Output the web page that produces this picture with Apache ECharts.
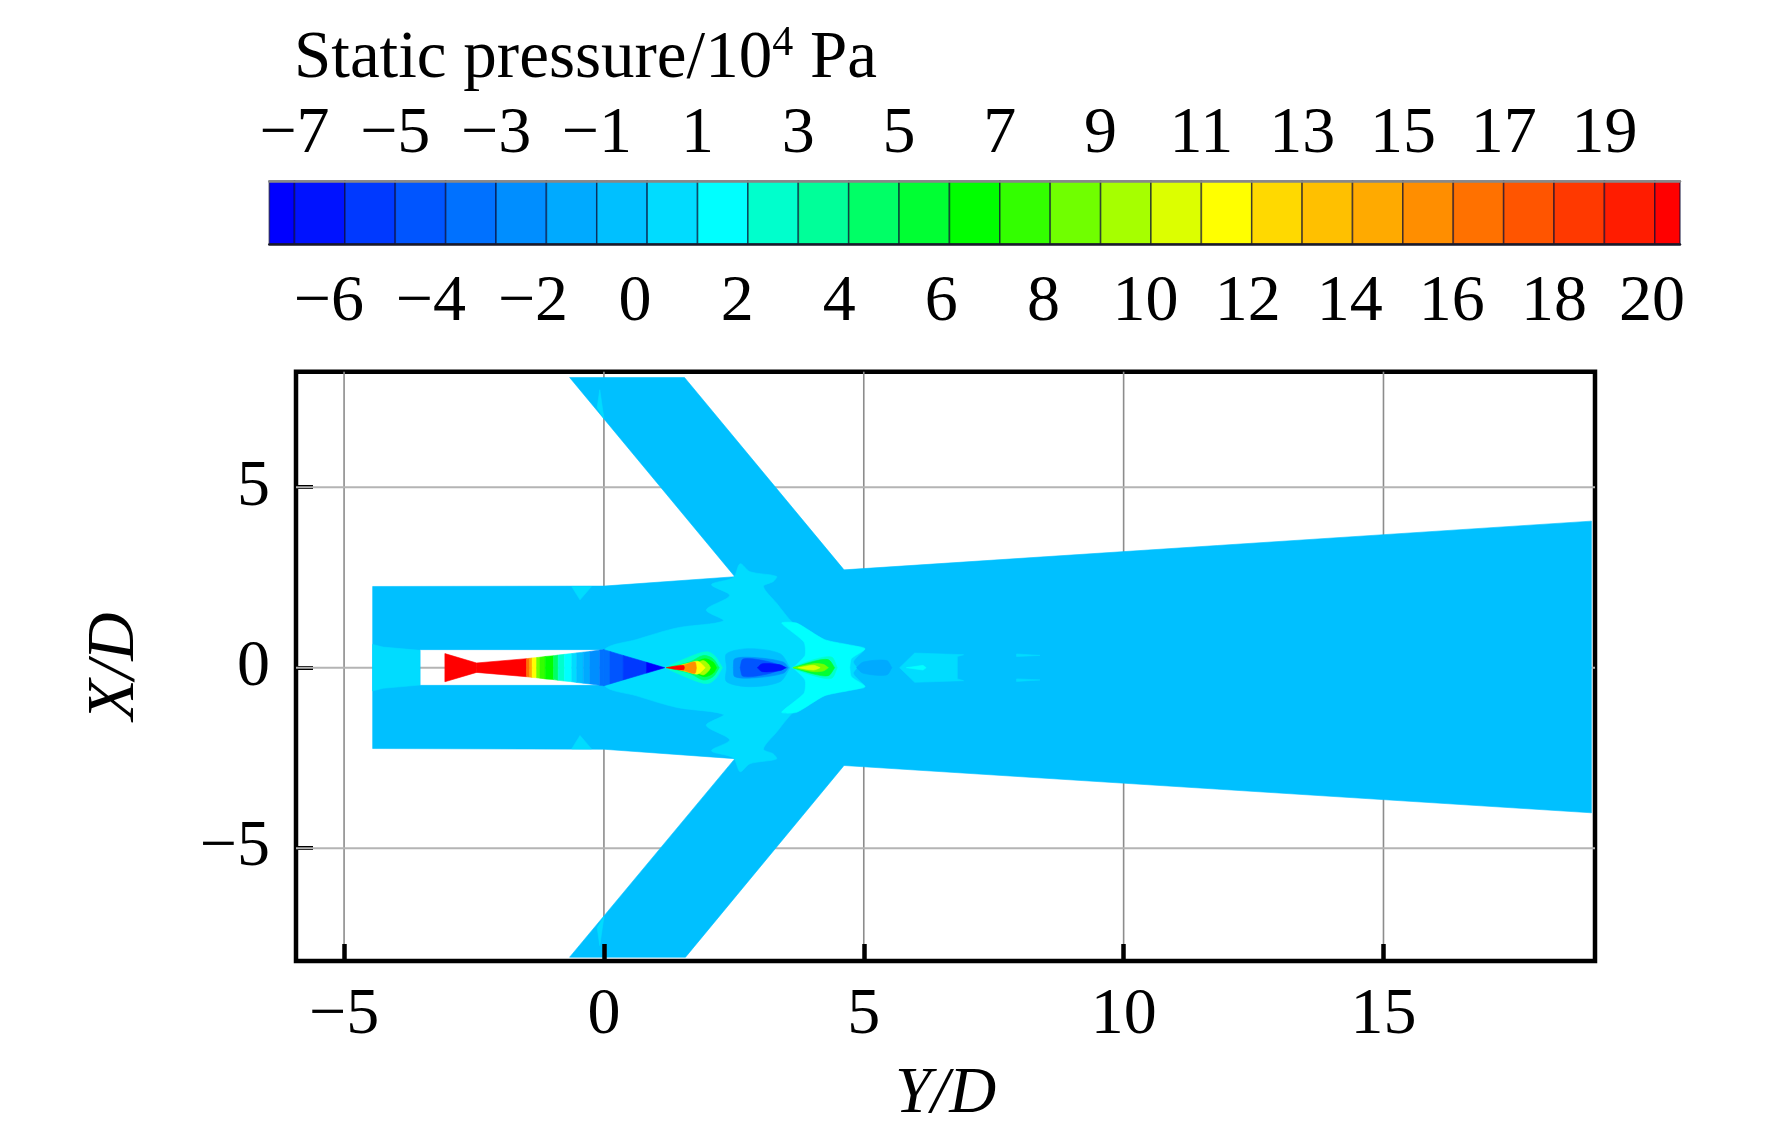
<!DOCTYPE html>
<html><head><meta charset="utf-8">
<style>html,body{margin:0;padding:0;background:#fff}#c{width:1772px;height:1132px}</style>
<script src="https://cdn.jsdelivr.net/npm/echarts@6/dist/echarts.min.js"></script>
</head><body><div id="c"></div>
<script>
const FONT = '"Liberation Serif"';
// colour bar
const bandEdges = [-7.5,-7,-6,-5,-4,-3,-2,-1,0,1,2,3,4,5,6,7,8,9,10,11,12,13,14,15,16,17,18,19,20,20.5];
const bandColors = ['#0000ff','#0012ff','#0039ff','#0055ff','#0071ff','#008eff','#00aaff','#00c0ff','#00dcff','#00ffff',
  '#00ffcc','#00ff99','#00ff66','#00ff33','#00ff00','#33ff00','#70ff00','#a6ff00','#dcff00','#ffff00',
  '#ffd900','#ffc000','#ffaa00','#ff8e00','#ff7100','#ff5500','#ff3900','#ff1c00','#ff0000'];
const topTicks = [-7,-5,-3,-1,1,3,5,7,9,11,13,15,17,19];
const bottomTicks = [-6,-4,-2,0,2,4,6,8,10,12,14,16,18,20];
const xTicks = [-5,0,5,10,15];
const yTicks = [-5,0,5];

// flow domain outline with the nozzle void (Y/D, X/D)
const domainOutline = [[-4.45,2.25],[0,2.26],[2.52,2.52],[-0.66,8.04],[1.55,8.04],[4.62,2.71],[19,4.06],
  [19,-4.02],[4.62,-2.71],[1.57,-8.02],[-0.66,-8.02],[2.52,-2.52],[0,-2.26],[-4.45,-2.24],
  [-4.45,0],[-3.54,0],[-3.54,-0.49],[0,-0.49],[0,0.5],[-3.54,0.5],[-3.54,0],[-4.45,0]];
// upper halves of symmetric pressure contours: [Y/D, X/D]
const centralRegion = [[0,0.48],[0.63,0.78],[1.4,1.1],[2.3,1.3],[1.97,1.6],[2.42,2.0],[2.07,2.3],[2.49,2.5],[2.62,2.88],[2.81,2.66],[3.32,2.53],[3.26,2.39],[3.07,2.25],[3.32,1.79],[3.64,1.24],[4.09,0.78],[4.6,0.59],[5.02,0.54],[4.8,0.17],[4.87,0]];
const inletStrip = [[-4.45,0.645],[-4.25,0.57],[-3.54,0.48],[-3.54,0]];
const edgeSpot = [[-0.62,2.25],[-0.24,2.25],[-0.46,1.88]];
const armSpot = [[-0.08,7.7],[0.0,6.9],[-0.13,7.2]];
const wing = [[3.64,0],[3.87,0.34],[3.85,0.71],[3.42,1.235],[3.71,1.235],[4.25,0.775],[5.02,0.526],[4.76,0.25],[4.73,0]];
const diamondA = [
  [2.5,[[1.17,0],[1.75,0.36],[2.0,0.44],[2.15,0.3],[2.28,0]]],
  [4.5,[[1.2,0],[1.65,0.157],[1.91,0.34],[2.1,0.25],[2.22,0]]],
  [6.5,[[1.27,0],[1.72,0.13],[1.94,0.25],[2.1,0.157],[2.17,0]]],
  [9.5,[[1.27,0],[1.75,0.11],[1.91,0.2],[2.01,0.1],[2.05,0]]],
  [11.5,[[1.3,0],[1.65,0.13],[1.81,0.175],[1.95,0]]],
  [15,[[1.33,0],[1.55,0.083],[1.75,0.157],[1.78,0]]],
  [20,[[1.2,0],[1.36,0.04],[1.53,0.06],[1.55,0]]]];
const shockBlue = [
  [-0.5,[[2.36,0],[2.36,0.387],[2.81,0.526],[3.39,0.387],[3.58,0]]],
  [-2.5,[[2.49,0],[2.52,0.25],[2.94,0.277],[3.45,0.157],[3.55,0]]],
  [-4.5,[[2.62,0],[2.68,0.24],[3.13,0.18],[3.52,0]]],
  [-7,[[2.95,0],[3.05,0.11],[3.39,0.08],[3.5,0]]]];
const diamondB = [
  [2.5,[[3.61,0],[4.03,0.22],[4.38,0.295],[4.49,0]]],
  [5.5,[[3.64,0],[4.06,0.184],[4.32,0.22],[4.44,0]]],
  [8.5,[[3.64,0],[4.03,0.11],[4.22,0.092],[4.32,0]]],
  [10.5,[[3.74,0],[4.03,0.065],[4.16,0]]]];
const wakeSpot = [[4.86,0],[4.99,0.157],[5.44,0.2],[5.54,0]];
const wakePatch = [[5.69,0],[5.98,0.405],[6.92,0.36],[6.8,0.31],[6.8,0]];
const wakeCore = [[5.82,0],[6.14,0.065],[6.2,0]];
const streak = [[7.94,0.38],[8.39,0.34],[7.94,0.31]];
// nozzle core: station, half height, value of the band that starts there
const jetX = [-3.06,-2.45,-1.49,-1.43,-1.38,-1.295,-1.23,-1.13,-0.97,-0.88,-0.76,-0.62,-0.525,-0.397,-0.27,-0.08,0,0.115,0.37,0.82,1.17];
const jetH = [0.39,0.13,0.25,0.26,0.27,0.28,0.29,0.31,0.33,0.35,0.37,0.39,0.41,0.43,0.45,0.49,0.5,0.45,0.34,0.15,0];
const jetV = [20,20,16,14,11.5,8.5,7,6.5,4.5,2.5,1.5,0.5,-0.5,-1.5,-2.5,-3.5,-3.5,-4.5,-5.5,-7.25];

const mirror = up => up.concat(up.slice().reverse().map(p => [p[0], -p[1]]));
const colorOf = v => {
  for (let i = 0; i < bandColors.length; i++) if (v >= bandEdges[i] && v < bandEdges[i+1]) return bandColors[i];
  return bandColors[bandColors.length-1];
};
const flip = pts => pts.map(p => [p[0], -p[1]]);
// entries: [value, points, soften]
const contours = [
  [-0.5, domainOutline, 0],
  [0.5, mirror(centralRegion), 0.3],
  [0.5, mirror(inletStrip), 0],
  [0.5, edgeSpot, 0],[0.5, flip(edgeSpot), 0],
  [0.5, armSpot, 0],[0.5, flip(armSpot), 0],
  [1.5, mirror(wing), 0.2],
  ...diamondA.map(d => [d[0], mirror(d[1]), 0.3]),
  ...shockBlue.map(d => [d[0], mirror(d[1]), 0.3]),
  ...diamondB.map(d => [d[0], mirror(d[1]), 0.3]),
  [-1.5, mirror(wakeSpot), 0.3],
  [0.5, mirror(wakePatch), 0],
  [1.5, mirror(wakeCore), 0],
  [0.5, streak, 0],[0.5, flip(streak), 0]
];
jetV.forEach((v, i) => {
  contours.push([v, [[jetX[i],jetH[i]],[jetX[i+1],jetH[i+1]],[jetX[i+1],-jetH[i+1]],[jetX[i],-jetH[i]]], 0]);
});

const fmt = v => String(v).replace('-', '\u2212');
const txt = {fontFamily: FONT, fontSize: 66, color: '#000'};
const G = {xMin:-5.925, xMax:19.07, yMin:-8.126, yMax:8.2};

const chart = echarts.init(document.getElementById('c'), null, {renderer:'canvas', width:1772, height:1132});
chart.setOption({
  animation:false,
  backgroundColor:'#fff',
  title:{left:289, top:18, text:'{a|Static pressure/10}{b|4}{a| Pa}',
    textStyle:{fontWeight:'normal',rich:{a:{fontFamily:FONT,fontSize:67,fontWeight:'normal',color:'#000',lineHeight:72},
                     b:{fontFamily:FONT,fontSize:42,fontWeight:'normal',color:'#000',lineHeight:42,verticalAlign:'top'}}}},
  grid:[
    {left:296,top:371.7,width:1299,height:590.3,show:true,backgroundColor:'#fff',borderColor:'#000',borderWidth:4.5},
    {left:269.3,top:181,width:1410.7,height:63}
  ],
  xAxis:[
    {gridIndex:0,type:'value',min:G.xMin,max:G.xMax,position:'bottom',axisLine:{show:false,onZero:false},axisTick:{show:false},axisLabel:{show:false},
      splitLine:{show:false}},
    {gridIndex:0,type:'value',min:G.xMin,max:G.xMax,position:'bottom',z:5,axisLine:{show:false,onZero:false},
      axisTick:{show:true,inside:true,length:17,customValues:xTicks,lineStyle:{color:'#000',width:4.5}},
      axisLabel:{show:true,customValues:xTicks,formatter:fmt,margin:22,hideOverlap:false,...txt},
      splitLine:{show:false},
      name:'Y/D',nameLocation:'middle',nameGap:101,nameTextStyle:{fontFamily:FONT,fontStyle:'italic',fontSize:65,color:'#000'}},
    {gridIndex:1,type:'value',min:-7.5,max:20.5,position:'top',z:5,
      axisLine:{show:true,onZero:false,lineStyle:{color:'#888',width:2.5}},axisTick:{show:false},splitLine:{show:false},
      axisLabel:{show:true,customValues:topTicks,formatter:fmt,margin:13,hideOverlap:false,...txt}},
    {gridIndex:1,type:'value',min:-7.166,max:20.47,position:'bottom',z:5,
      axisLine:{show:true,onZero:false,lineStyle:{color:'#1a1a2a',width:2.5}},axisTick:{show:false},splitLine:{show:false},
      axisLabel:{show:true,customValues:bottomTicks,margin:26,hideOverlap:false,...txt,
        formatter:v=>v===20?'{s|20}':fmt(v),
        rich:{s:{fontFamily:FONT,fontSize:66,color:'#000',padding:[0,8,0,0]}}}}
  ],
  yAxis:[
    {gridIndex:0,type:'value',min:G.yMin,max:G.yMax,axisLine:{show:false,onZero:false},
      axisTick:{show:true,inside:true,length:17,customValues:yTicks,lineStyle:{color:'#000',width:4}},
      axisLabel:{show:true,customValues:yTicks,formatter:fmt,margin:26,hideOverlap:false,...txt},
      splitLine:{show:false},
      name:'X/D',nameLocation:'middle',nameGap:147,nameRotate:90,nameTextStyle:{fontFamily:FONT,fontStyle:'italic',fontSize:67,color:'#000'}},
    {gridIndex:1,type:'value',min:0,max:1,show:false}
  ],
  series:[
    {type:'custom',name:'grid lines',xAxisIndex:0,yAxisIndex:0,z:1,silent:true,
      data:[...xTicks.map(v=>[v,0]),...yTicks.map(v=>[v,0])],
      renderItem:(p,api)=>{
        const v=api.value(0), isX=p.dataIndex<xTicks.length;
        const a=isX?api.coord([v,G.yMin]):api.coord([G.xMin,v]);
        const b=isX?api.coord([v,G.yMax]):api.coord([G.xMax,v]);
        return {type:'line',shape:{x1:a[0],y1:a[1],x2:b[0],y2:b[1]},
          style:{stroke:isX?'#8c8c8c':'#b4b4b4',lineWidth:isX?1.6:2}};
      }},
    {type:'custom',name:'Static pressure',xAxisIndex:0,yAxisIndex:0,z:2,silent:true,
      data:contours.map((c,i)=>[i,0]),
      renderItem:(p,api)=>{
        const c=contours[api.value(0)];
        return {type:'polygon',shape:{points:c[1].map(q=>api.coord(q)),smooth:c[2]},
          style:{fill:colorOf(c[0]),stroke:colorOf(c[0]),lineWidth:0.6}};
      }},
    {type:'custom',name:'Colour bar',xAxisIndex:2,yAxisIndex:1,z:2,silent:true,
      data:bandColors.map((c,i)=>[bandEdges[i],bandEdges[i+1]]),
      renderItem:(p,api)=>{
        const a=api.coord([api.value(0),1]), b=api.coord([api.value(1),0]);
        return {type:'rect',shape:{x:a[0],y:a[1],width:b[0]-a[0],height:b[1]-a[1]},
          style:{fill:bandColors[p.dataIndex],stroke:'rgba(10,10,50,0.6)',lineWidth:1.6}};
      }}
  ]
});
</script></body></html>
